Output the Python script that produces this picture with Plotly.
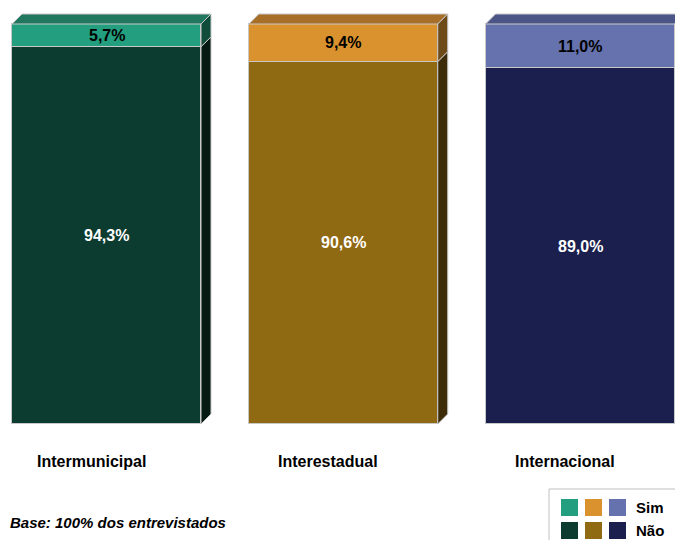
import plotly.graph_objects as go

categories = ["Intermunicipal", "Interestadual", "Internacional"]
nao_values = [94.3, 90.6, 89.0]
sim_values = [5.7, 9.4, 11.0]
series_names = ["Sim", "Não"]

sim_front = ["#239E7F", "#D9922E", "#6672AE"]
nao_front = ["#0C3B2F", "#906913", "#1B1F4D"]
sim_top = ["#22785F", "#A76F27", "#4B5687"]
sim_side = ["#0F4D3A", "#6D4A17", "#353C66"]
nao_side = ["#061A14", "#3E2C08", "#0B0E25"]
edge = "#C8C8C8"
FONT = "Liberation Sans, Arial"

W, H = 675, 540
spacing_px = 236.75
center0_px = 106.5
bar_w = 189 / spacing_px
dx = 10 / spacing_px
dy = 2.5
x_range = [-center0_px / spacing_px, (W - center0_px) / spacing_px]
y_range = [-29, 106]

xs = list(range(len(categories)))

def fmt(v):
    return f"{v:.1f}".replace(".", ",") + "%"

fig = go.Figure()
fig.add_trace(go.Bar(x=xs, y=nao_values, width=bar_w, name="Não",
                     marker=dict(color=nao_front, line=dict(color=edge, width=1)),
                     hoverinfo="skip", showlegend=False))
fig.add_trace(go.Bar(x=xs, y=sim_values, width=bar_w, name="Sim",
                     marker=dict(color=sim_front, line=dict(color=edge, width=1)),
                     hoverinfo="skip", showlegend=False))

annotations = []
for i, (n, s) in enumerate(zip(nao_values, sim_values)):
    x0 = i - bar_w / 2
    x1 = i + bar_w / 2
    total = n + s
    fig.add_trace(go.Scatter(x=[x0, x1, x1 + dx, x0 + dx, x0],
                             y=[total, total, total + dy, total + dy, total],
                             fill="toself", fillcolor=sim_top[i], mode="lines",
                             line=dict(color=edge, width=1), hoverinfo="skip", showlegend=False))
    for (b0, b1, col) in [(0, n, nao_side[i]), (n, total, sim_side[i])]:
        fig.add_trace(go.Scatter(x=[x1, x1 + dx, x1 + dx, x1, x1],
                                 y=[b0, b0 + dy, b1 + dy, b1, b0],
                                 fill="toself", fillcolor=col, mode="lines",
                                 line=dict(color=edge, width=1), hoverinfo="skip", showlegend=False))
    annotations.append(dict(x=i, y=n / 2, xref="x", yref="y", yanchor="middle",
                            text=f"<b>{fmt(n)}</b>", showarrow=False,
                            font=dict(family=FONT, size=16, color="white")))
    annotations.append(dict(x=i, y=n + s / 2, xref="x", yref="y", yanchor="middle",
                            text=f"<b>{fmt(s)}</b>", showarrow=False,
                            font=dict(family=FONT, size=16, color="black")))
    annotations.append(dict(x=i, y=1 - 461 / H, xref="x", yref="paper", yanchor="middle",
                            text=f"<b>{categories[i]}</b>", showarrow=False, xshift=-15,
                            font=dict(family=FONT, size=16, color="black")))

annotations.append(dict(x=8 / W, y=1 - 522 / H, xref="paper", yref="paper", xanchor="left",
                        yanchor="middle",
                        text="<b><i>Base: 100% dos entrevistados</i></b>", showarrow=False,
                        font=dict(family=FONT, size=15, color="black")))

shapes = []
shapes.append(dict(type="rect", xref="paper", yref="paper",
                   x0=549 / W, x1=1.01, y0=1 - 560 / H, y1=1 - 489 / H,
                   line=dict(color="#C0C0C0", width=1), fillcolor="white"))
sw_x = [561, 585, 609]
rows = [(499, sim_front, "Sim"), (522, nao_front, "Não")]
for top, cols, label in rows:
    for xpx, c in zip(sw_x, cols):
        shapes.append(dict(type="rect", xref="paper", yref="paper",
                           x0=xpx / W, x1=(xpx + 17) / W,
                           y0=1 - (top + 17) / H, y1=1 - top / H,
                           line=dict(width=0), fillcolor=c))
    annotations.append(dict(x=634 / W, y=1 - (top + 8.5) / H, xref="paper", yref="paper",
                            xanchor="left", yanchor="middle", text=f"<b>{label}</b>",
                            showarrow=False,
                            font=dict(family=FONT, size=15, color="black")))

fig.update_layout(
    width=W, height=H, barmode="stack", bargap=0,
    margin=dict(l=0, r=0, t=0, b=0),
    paper_bgcolor="white", plot_bgcolor="white",
    xaxis=dict(range=x_range, visible=False, fixedrange=True),
    yaxis=dict(range=y_range, visible=False, fixedrange=True),
    annotations=annotations, shapes=shapes, showlegend=False,
)

fig.write_html("out.html")
